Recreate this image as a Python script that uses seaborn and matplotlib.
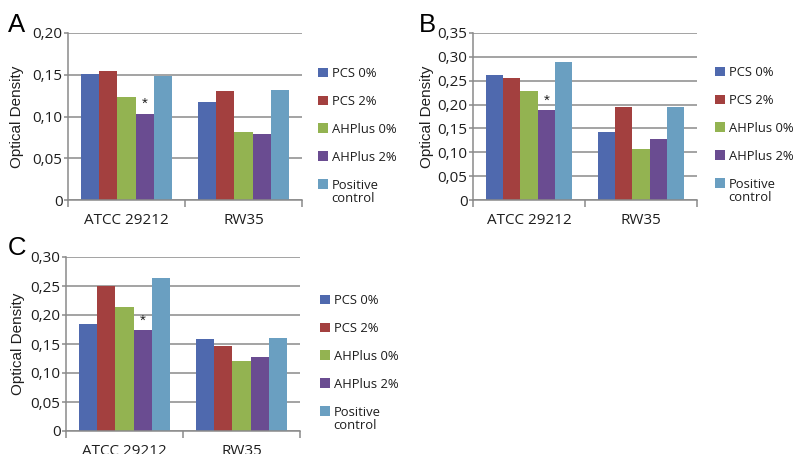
import matplotlib
matplotlib.use("Agg")
import matplotlib.pyplot as plt
from matplotlib.patches import Patch
from matplotlib.ticker import FixedLocator, FuncFormatter
import seaborn as sns
import pandas as pd

strains = ["ATCC 29212", "RW35"]
groups = ["PCS 0%", "PCS 2%", "AHPlus 0%", "AHPlus 2%", "Positive control"]
colors = ["#4F69AE", "#A3403F", "#93B351", "#6A4C91", "#6A9FC1"]

# optical density per group, listed as [ATCC 29212, RW35]
panel_a = {
    "PCS 0%": [0.151, 0.117],
    "PCS 2%": [0.155, 0.130],
    "AHPlus 0%": [0.123, 0.081],
    "AHPlus 2%": [0.103, 0.079],
    "Positive control": [0.148, 0.132],
}
panel_b = {
    "PCS 0%": [0.261, 0.143],
    "PCS 2%": [0.256, 0.195],
    "AHPlus 0%": [0.228, 0.106],
    "AHPlus 2%": [0.188, 0.127],
    "Positive control": [0.289, 0.194],
}
panel_c = {
    "PCS 0%": [0.184, 0.158],
    "PCS 2%": [0.250, 0.147],
    "AHPlus 0%": [0.213, 0.121],
    "AHPlus 2%": [0.174, 0.127],
    "Positive control": [0.264, 0.160],
}

y_max_a, y_max_b, y_max_c = 0.20, 0.35, 0.30
significant = ("ATCC 29212", "AHPlus 2%")

W, H = 795, 454
sns.set_theme(style="white")
plt.rcParams["font.family"] = ["Open Sans", "DejaVu Sans"]

fig = plt.figure(figsize=(W / 100, H / 100), dpi=100)
fig.patch.set_facecolor("white")

GRID = "#8a8a8a"
TEXT = "#1e1e1e"
ARIAL = ["Liberation Sans", "DejaVu Sans"]
LEGEND_SIZE = 9.4
legends = []


def box(left, right, top, bottom):
    return [left / W, 1 - bottom / H, (right - left) / W, (bottom - top) / H]


def to_frame(values):
    rows = []
    for g in groups:
        for s, v in zip(strains, values[g]):
            rows.append({"strain": s, "group": g, "od": v})
    return pd.DataFrame(rows)


def od_fmt(v, _pos):
    if abs(v) < 1e-9:
        return "0"
    return f"{v:.2f}".replace(".", ",")


def panel(rect, values, ymax, letter, letter_xy, ylabel_x, legend_xy):
    ax = fig.add_axes(box(*rect))
    df = to_frame(values)
    sns.barplot(data=df, x="strain", y="od", hue="group", hue_order=groups,
                order=strains, palette=colors, width=0.77, saturation=1,
                linewidth=0, legend=False, errorbar=None, ax=ax)
    ax.set_xlim(-0.5, 1.5)
    ax.set_ylim(0, ymax)
    ticks = [round(i * 0.05, 2) for i in range(int(round(ymax / 0.05)) + 1)]
    ax.yaxis.set_major_locator(FixedLocator(ticks))
    ax.yaxis.set_major_formatter(FuncFormatter(od_fmt))
    ax.grid(axis="y", color=GRID, linewidth=1.1)
    ax.set_axisbelow(True)
    for side in ("top", "right"):
        ax.spines[side].set_visible(False)
    for side in ("left", "bottom"):
        ax.spines[side].set_color(GRID)
        ax.spines[side].set_linewidth(1.1)
    ax.tick_params(axis="y", which="major", length=3, width=1.1, color=GRID,
                   labelsize=11, labelcolor=TEXT, pad=1, left=True)
    ax.tick_params(axis="x", which="major", length=0, labelsize=11,
                   labelcolor=TEXT, pad=9.5)
    ax.xaxis.set_minor_locator(FixedLocator([-0.5, 0.5, 1.5]))
    ax.tick_params(axis="x", which="minor", length=5, width=1.1, color=GRID,
                   bottom=True)
    ax.set_xlabel("")
    ax.set_ylabel("")

    # asterisk above the significantly different bar
    hi = groups.index(significant[1])
    si = strains.index(significant[0])
    bar = ax.containers[hi].patches[si]
    ax.annotate("*", (bar.get_x() + bar.get_width() / 2, bar.get_height()),
                xytext=(0, 2), textcoords="offset points", ha="center",
                va="bottom", fontsize=11, color=TEXT, family=ARIAL)

    fig.text(letter_xy[0] / W, 1 - letter_xy[1] / H, letter, fontsize=18.5,
             color="black", ha="left", va="center", family=ARIAL)
    fig.text(ylabel_x / W, 1 - (rect[2] + rect[3]) / 2 / H, "Optical Density",
             rotation=90, ha="center", va="center", fontsize=11, color=TEXT,
             family=ARIAL)

    # legend: the last entry wraps onto a second line under its first line
    labels = groups[:-1] + ["Positive"]
    handles = [Patch(facecolor=c, edgecolor="none") for c in colors]
    leg = fig.legend(handles, labels, loc="upper left",
                     bbox_to_anchor=(legend_xy[0] / W, 1 - legend_xy[1] / H),
                     frameon=False, fontsize=LEGEND_SIZE, handlelength=0.75,
                     handleheight=0.75, handletextpad=0.3, labelspacing=1.14,
                     borderaxespad=0, borderpad=0, labelcolor=TEXT)
    legends.append(leg)
    return ax


panel((68, 302, 33, 200), panel_a, y_max_a, "A", (8, 25), 17, (318, 67))
panel((473, 697, 33, 200), panel_b, y_max_b, "B", (419, 25), 427, (715, 66))
panel((66, 300, 257, 431), panel_c, y_max_c, "C", (8, 248), 18, (320, 294))

# second line of the "Positive control" entry
fig.canvas.draw()
for leg in legends:
    ext = leg.get_texts()[-1].get_window_extent()
    line_gap = 13.3
    fig.text(ext.x0 / W, (ext.y1 - line_gap) / H, "control", ha="left",
             va="top", fontsize=LEGEND_SIZE, color=TEXT)

fig.savefig("out.png", dpi=100, facecolor="white")
